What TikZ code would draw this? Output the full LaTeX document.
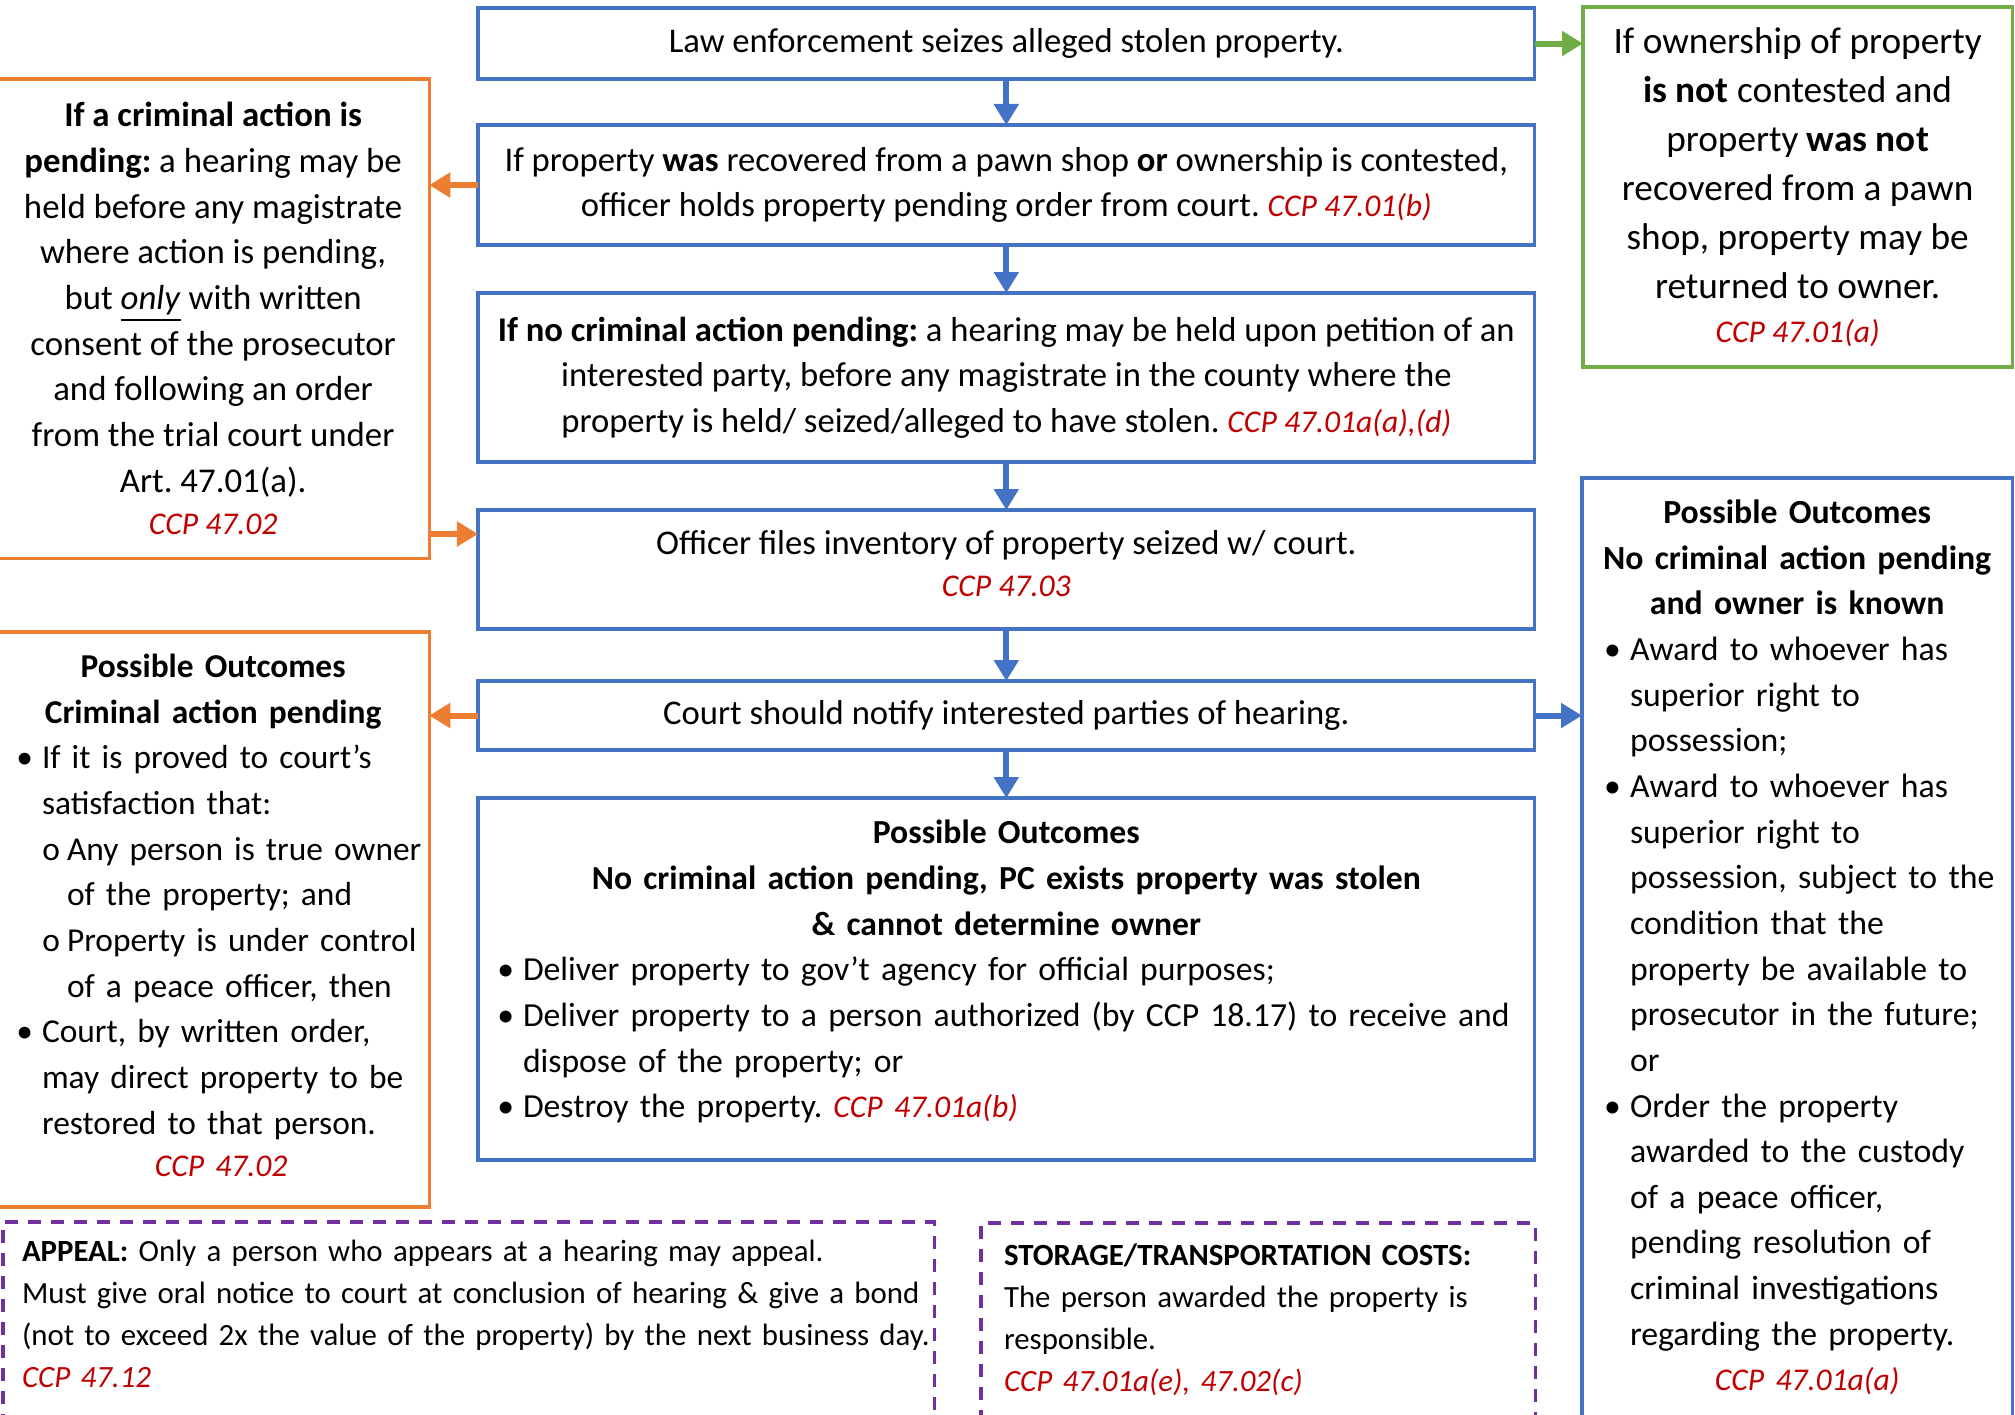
\documentclass[tikz,border=0pt]{standalone}
\usepackage{fontspec}
\setmainfont{Carlito}
\usepackage{xcolor}
\definecolor{hblue}{RGB}{68,114,196}
\definecolor{horange}{RGB}{237,125,49}
\definecolor{hgreen}{RGB}{112,173,71}
\definecolor{hpurple}{RGB}{112,48,160}
\definecolor{hred}{RGB}{192,0,0}
\usetikzlibrary{arrows.meta}
\usetikzlibrary{calc}
\frenchspacing
\tikzset{
  flow/.style={draw=hblue,line width=0.035cm,anchor=north west,outer sep=0pt,inner xsep=0.08cm,
    minimum width=10.56cm,align=center,font=\fontsize{9.85}{12.98}\selectfont},
  side/.style={line width=0.035cm,anchor=north west,outer sep=0pt,inner xsep=0cm,
    align=center,font=\fontsize{9.6}{12.98}\selectfont},
  note/.style={draw=hpurple,line width=0.035cm,dash pattern=on 0.13cm off 0.1cm,anchor=north west,
    outer sep=0pt,inner xsep=0cm,align=left,font={\fontsize{8.77}{11.95}\selectfont\def\ccpsize{8.8}}},
  barrow/.style={hblue,line width=0.06cm,-{Triangle[length=0.21cm,width=0.24cm]}},
  oarrow/.style={barrow,horange},
  garrow/.style={barrow,hgreen}
}
\newcommand{\ccpsize}{9.0}
\makeatletter
\newcommand{\ccp}[1]{{\color{hred}\itshape\fontsize{\ccpsize}{\f@baselineskip}\selectfont #1}}
\makeatother
\newcommand{\pad}[1]{\leftskip=#1\rightskip=-1cm plus 1fil\relax}
\newcommand{\bul}[1]{\par\pad{#1}\noindent\llap{•\hspace{0.09cm}}}
\newcommand{\sbul}[1]{\par\pad{#1}\noindent\llap{o\hspace{0.07cm}}}
\newcommand{\hdr}[1]{\par{\centering\bfseries #1\par}}
\newcommand{\ccpline}[3]{\par\vspace{#1}{\centering\hspace*{#2}\ccp{#3}\par}}
\newcommand{\lift}[1]{\rule[-#1]{0pt}{#1}}

\begin{document}
\begin{tikzpicture}[x=0.01cm,y=-0.01cm]
  \useasboundingbox (0,0) rectangle (2015,1414);
  \node[flow,minimum height=0.71cm] (seize) at (478,8) {Law enforcement seizes alleged stolen property.};
  \node[flow,minimum height=1.2cm] (hold) at (478,125) {If property \textbf{was} recovered from a pawn shop \textbf{or} ownership is contested,\\ officer holds property pending order from court. \ccp{CCP 47.01(b)}};
  \node[flow,minimum height=1.69cm] (nocrim) at (478,293) {\textbf{If no criminal action pending:} a hearing may be held upon petition of an\\ interested party, before any magistrate in the county where the\\ property is held/ seized/alleged to have stolen. \ccp{CCP 47.01a(a),(d)}};
  \node[flow,minimum height=1.19cm] (inv) at (478,510) {Officer files inventory of property seized w/ court.\\[-0.03cm] \ccp{CCP 47.03}\lift{0.12cm}};
  \node[flow,minimum height=0.69cm] (notify) at (478,681) {Court should notify interested parties of hearing.};
  \node[flow,minimum height=3.62cm,inner ysep=0cm,text width=10.2cm,align=left,font=\fontsize{9.57}{12.98}\selectfont] (outc) at (478,798) {\hdr{Possible Outcomes\\ No criminal action pending, PC exists property was stolen\\ \& cannot determine owner}
    \bul{0.27cm}Deliver property to gov’t agency for official purposes;
    \bul{0.27cm}Deliver property to a person authorized (by CCP 18.17) to receive and\\ dispose of the property; or
    \bul{0.27cm}Destroy the property. \ccp{CCP 47.01a(b)}\lift{0.42cm}\par};
  \node[side,draw=horange,minimum width=4.32cm,minimum height=4.79cm,font=\fontsize{9.9}{12.98}\selectfont] (cpend) at (-3,79) {\textbf{If a criminal action is}\\ \textbf{pending:} a hearing may be\\ held before any magistrate\\ where action is pending,\\ but \underline{\emph{only}} with written\\ consent of the prosecutor\\ and following an order\\ from the trial court under\\ Art. 47.01(a).\\[-0.03cm] \ccp{CCP 47.02}};
  \node[side,draw=horange,minimum width=4.32cm,minimum height=5.73cm,inner ysep=0cm,text width=4.32cm,align=left,font=\fontsize{9.5}{12.98}\selectfont] (cpout) at (-3,632) {\hdr{Possible Outcomes\\ Criminal action pending}
    \bul{0.45cm}If it is proved to court’s\\ satisfaction that:
    \sbul{0.7cm}Any person is true owner\\ of the property; and
    \sbul{0.7cm}Property is under control\\ of a peace officer, then
    \bul{0.45cm}Court, by written order,\\ may direct property to be\\ restored to that person.
    \ccpline{-0.03cm}{0.16cm}{CCP 47.02\lift{0.3cm}}};
  \node[side,draw=hgreen,minimum width=4.29cm,minimum height=3.6cm,font=\fontsize{10.6}{13.95}\selectfont] (retown) at (1583,7) {If ownership of property\\ \textbf{is not} contested and\\ property \textbf{was not}\\ recovered from a pawn\\ shop, property may be\\ returned to owner.\\[-0.05cm] \ccp{CCP 47.01(a)}};
  \node[side,draw=hblue,minimum width=4.3cm,minimum height=9.42cm,inner ysep=0cm,text width=4.2cm,align=left] (known) at (1582,478) {\hdr{Possible Outcomes\\ No criminal action pending\\ and owner is known}
    \bul{0.43cm}Award to whoever has\\ superior right to\\ possession;
    \bul{0.43cm}Award to whoever has\\ superior right to\\ possession, subject to the\\ condition that the\\ property be available to\\ prosecutor in the future;\\ or
    \bul{0.43cm}Order the property\\ awarded to the custody\\ of a peace officer,\\ pending resolution of\\ criminal investigations\\ regarding the property.
    \ccpline{0cm}{0.2cm}{CCP 47.01a(a)\lift{0.37cm}}};
  \node[note,minimum width=9.31cm,minimum height=2.0cm,text width=9.31cm] (appeal) at (3,1222) {\pad{0.19cm}\textbf{APPEAL:} Only a person who appears at a hearing may appeal.\\ Must give oral notice to court at conclusion of hearing \& give a bond\\ (not to exceed 2x the value of the property) by the next business day.\\ \ccp{CCP 47.12}\lift{0.16cm}\par};
  \node[note,minimum width=5.54cm,minimum height=2.0cm,text width=5.54cm] (store) at (981,1223) {\pad{0.23cm}\textbf{STORAGE/TRANSPORTATION COSTS:}\\ The person awarded the property is\\ responsible.\\ \ccp{CCP 47.01a(e), 47.02(c)}\lift{0.11cm}\par};
  \coordinate (invin) at ($(inv.north west)+(0,24)$);
  \foreach \a/\b in {seize/hold,hold/nocrim,nocrim/inv,inv/notify,notify/outc}
    \draw[barrow] (\a) -- (\b);
  \draw[garrow] (seize.east) -- (seize.east -| retown.west);
  \draw[barrow] (notify.east) -- (notify.east -| known.west);
  \draw[oarrow] (hold.west) -- (hold.west -| cpend.east);
  \draw[oarrow] (cpend.east |- invin) -- (invin);
  \draw[oarrow] (notify.west) -- (notify.west -| cpout.east);
\end{tikzpicture}
\end{document}
